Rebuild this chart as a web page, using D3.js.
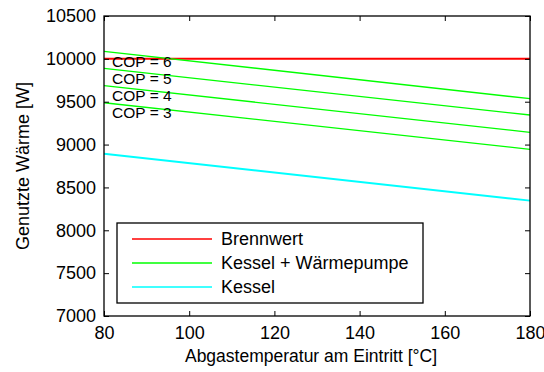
<!DOCTYPE html>
<html>
<head>
<meta charset="utf-8">
<script src="https://cdn.jsdelivr.net/npm/d3@7"></script>
<style>
  body { margin: 0; background: #fff; }
  text { font-family: "Liberation Sans", Arial, sans-serif; fill: #000; }
</style>
</head>
<body>
<svg id="chart" width="544" height="372"></svg>
<script>
// x values (Abgastemperatur am Eintritt, °C)
var temps = [80, 180];

// Genutzte Wärme [W]
var brennwert = [10000, 10000];
var cop6 = [10088, 9535];
var cop5 = [9888, 9345];
var cop4 = [9688, 9143];
var cop3 = [9488, 8945];
var kessel = [8893, 8346];

var copNames = ['COP = 6', 'COP = 5', 'COP = 4', 'COP = 3'];
var copLabelY = [9905, 9710, 9510, 9310];

var xTicks = [80, 100, 120, 140, 160, 180];
var yTicks = [7000, 7500, 8000, 8500, 9000, 9500, 10000, 10500];

var legendNames = ['Brennwert', 'Kessel + Wärmepumpe', 'Kessel'];
var legendColors = ['#ff0000', '#00ff00', '#00ffff'];

(function () {
  'use strict';

  var margin = { top: 16, right: 14, bottom: 56, left: 104 };
  var width = 544 - margin.left - margin.right;
  var height = 372 - margin.top - margin.bottom;

  var svg = d3.select('#chart');
  var g = svg.append('g')
    .attr('transform', 'translate(' + margin.left + ',' + margin.top + ')');

  var x = d3.scaleLinear().domain([80, 180]).range([0, width]);
  var y = d3.scaleLinear().domain([7000, 10500]).range([height, 0]);

  var line = d3.line()
    .x(function (d) { return x(d[0]); })
    .y(function (d) { return y(d[1]); });

  function pts(vals) {
    return temps.map(function (t, i) { return [t, vals[i]]; });
  }

  var series = [
    { v: brennwert, c: '#ff0000', w: 2 },
    { v: cop6, c: '#00ff00', w: 1.3 },
    { v: cop5, c: '#00ff00', w: 1.3 },
    { v: cop4, c: '#00ff00', w: 1.3 },
    { v: cop3, c: '#00ff00', w: 1.3 },
    { v: kessel, c: '#00ffff', w: 2 }
  ];

  g.selectAll('.series')
    .data(series)
    .enter()
    .append('path')
    .attr('class', 'series')
    .attr('d', function (d) { return line(pts(d.v)); })
    .attr('fill', 'none')
    .attr('stroke', function (d) { return d.c; })
    .attr('stroke-width', function (d) { return d.w; });

  // COP labels
  g.selectAll('.cop')
    .data(copNames)
    .enter()
    .append('text')
    .attr('class', 'cop')
    .attr('x', x(81.9))
    .attr('y', function (d, i) { return y(copLabelY[i]); })
    .style('font-size', '15.5px')
    .text(function (d) { return d; });

  // axes with inward ticks on all sides
  var tickLen = 5;
  var fmt = d3.format('d');
  var xb = g.append('g').attr('transform', 'translate(0,' + height + ')')
    .call(d3.axisBottom(x).tickValues(xTicks).tickFormat(fmt).tickSizeInner(-tickLen).tickSizeOuter(0).tickPadding(10));
  var xt = g.append('g')
    .call(d3.axisTop(x).tickValues(xTicks).tickSizeInner(-tickLen).tickSizeOuter(0).tickFormat(''));
  var yl = g.append('g')
    .call(d3.axisLeft(y).tickValues(yTicks).tickFormat(fmt).tickSizeInner(-tickLen).tickSizeOuter(0).tickPadding(8));
  var yr = g.append('g').attr('transform', 'translate(' + width + ',0)')
    .call(d3.axisRight(y).tickValues(yTicks).tickSizeInner(-tickLen).tickSizeOuter(0).tickFormat(''));

  [xb, xt, yl, yr].forEach(function (a) {
    a.select('.domain').remove();
    a.selectAll('line').attr('stroke', '#000').attr('stroke-width', 1);
    a.selectAll('text')
      .style('font-family', '"Liberation Sans", Arial, sans-serif')
      .style('font-size', '18px')
      .attr('fill', '#000');
  });

  g.append('rect')
    .attr('width', width)
    .attr('height', height)
    .attr('fill', 'none')
    .attr('stroke', '#000')
    .attr('stroke-width', 1.3);

  // legend
  var lg = g.append('g').attr('transform', 'translate(13,207)');
  lg.append('rect')
    .attr('width', 306)
    .attr('height', 80)
    .attr('fill', '#fff')
    .attr('stroke', '#000')
    .attr('stroke-width', 1.3);

  var rows = lg.selectAll('.lrow')
    .data(legendNames)
    .enter()
    .append('g')
    .attr('class', 'lrow')
    .attr('transform', function (d, i) { return 'translate(0,' + (16 + i * 24) + ')'; });

  rows.append('line')
    .attr('x1', 15).attr('x2', 95)
    .attr('stroke', function (d, i) { return legendColors[i]; })
    .attr('stroke-width', function (d, i) { return i === 1 ? 1.5 : 1.3; });

  rows.append('text')
    .attr('x', 104)
    .attr('dy', '0.35em')
    .style('font-size', '18px')
    .text(function (d) { return d; });

  // axis titles
  svg.append('text')
    .attr('x', margin.left + width / 2 - 6)
    .attr('y', 362)
    .attr('text-anchor', 'middle')
    .style('font-size', '17.5px')
    .text('Abgastemperatur am Eintritt [°C]');

  svg.append('text')
    .attr('transform', 'translate(29,' + (margin.top + height / 2) + ') rotate(-90)')
    .attr('text-anchor', 'middle')
    .style('font-size', '18px')
    .text('Genutzte Wärme [W]');
})();
</script>
</body>
</html>
